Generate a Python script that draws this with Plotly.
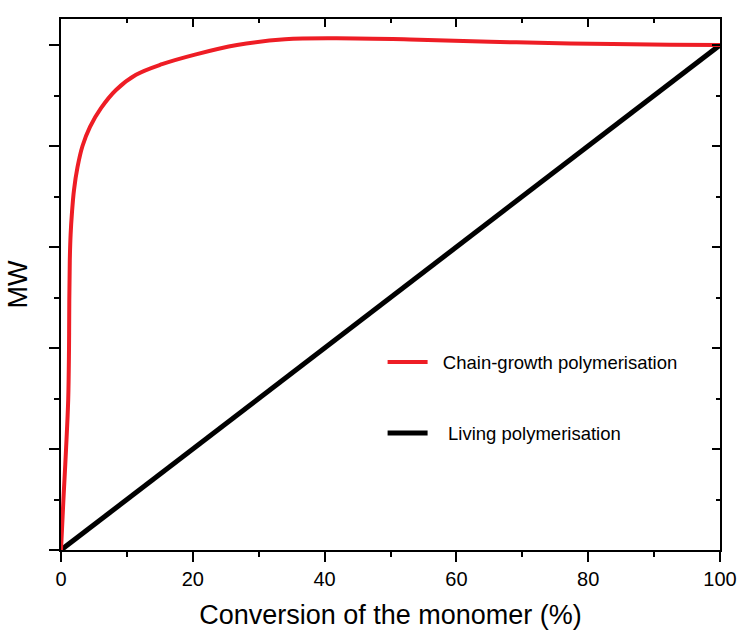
import plotly.graph_objects as go

# Data
chain_x = [0, 0.364, 0.759, 1.093, 1.214, 1.259, 1.335, 1.457, 1.669, 1.973, 2.504, 3.263,
           4.401, 6.070, 8.346, 11.381, 15.326, 20.334, 26.707, 33.991, 41.578, 52.959,
           65.099, 77.238, 92.413, 100]
chain_y = [0, 0.099, 0.198, 0.297, 0.396, 0.495, 0.574, 0.624, 0.669, 0.713, 0.758, 0.800,
           0.838, 0.875, 0.911, 0.941, 0.962, 0.981, 1.000, 1.0113, 1.0133, 1.011,
           1.0065, 1.003, 1.0006, 1.0]
living_x = [0, 100]
living_y = [0, 1.0]

x_ticks = [0, 20, 40, 60, 80, 100]
y_ticks = [0, 0.2, 0.4, 0.6, 0.8, 1.0]

FONT = "Liberation Sans, Arial, sans-serif"
NB = "\u00a0"

fig = go.Figure()
fig.add_trace(go.Scatter(x=living_x, y=living_y, mode="lines",
                         name=NB * 3 + "Living polymerisation",
                         line=dict(color="black", width=5), legendrank=2, legendgroup="b"))
fig.add_trace(go.Scatter(x=chain_x, y=chain_y, mode="lines",
                         name=NB * 2 + "Chain-growth polymerisation",
                         line=dict(color="#EE1D25", width=4, shape="spline", smoothing=1.0),
                         legendrank=1, legendgroup="a"))
# invisible trace for mirrored axes
fig.add_trace(go.Scatter(x=[0, 100], y=[0, 1], xaxis="x2", yaxis="y2", mode="lines",
                         line=dict(width=0), showlegend=False, hoverinfo="skip"))

ax_common = dict(showline=True, linewidth=2, linecolor="black", showgrid=False, zeroline=False,
                 tickwidth=2, tickcolor="black", automargin=False)

fig.update_layout(
    width=740, height=633,
    margin=dict(l=61, r=20, t=19, b=83),
    plot_bgcolor="white", paper_bgcolor="white",
    font=dict(family=FONT, color="black"),
    xaxis=dict(range=[0, 100], tickvals=x_ticks, ticks="outside", ticklen=10,
               minor=dict(dtick=10, tick0=0, ticks="outside", ticklen=5, tickwidth=2, tickcolor="black"),
               tickfont=dict(size=20), title=dict(text="Conversion of the monomer (%)",
                                                   font=dict(size=27), standoff=16),
               **ax_common),
    xaxis2=dict(range=[0, 100], overlaying="x", side="top", tickvals=x_ticks, ticks="inside",
                ticklen=8, showticklabels=False,
                minor=dict(dtick=10, tick0=0, ticks="inside", ticklen=4, tickwidth=2, tickcolor="black"),
                **ax_common),
    yaxis=dict(range=[0, 1.0515], tickvals=y_ticks, ticks="outside", ticklen=10, showticklabels=False,
               minor=dict(dtick=0.1, tick0=0, ticks="outside", ticklen=5, tickwidth=2, tickcolor="black"),
               title=dict(text="MW", font=dict(size=27), standoff=14),
               **ax_common),
    yaxis2=dict(range=[0, 1.0515], overlaying="y", side="right", tickvals=y_ticks, ticks="inside",
                ticklen=8, showticklabels=False,
                minor=dict(dtick=0.1, tick0=0, ticks="inside", ticklen=4, tickwidth=2, tickcolor="black"),
                **ax_common),
    legend=dict(x=0.488, y=0.389, xanchor="left", yanchor="top", traceorder="grouped",
                tracegroupgap=44, font=dict(size=18.5), itemwidth=40,
                bgcolor="rgba(0,0,0,0)"),
    showlegend=True,
)

fig.write_html("out.html")
